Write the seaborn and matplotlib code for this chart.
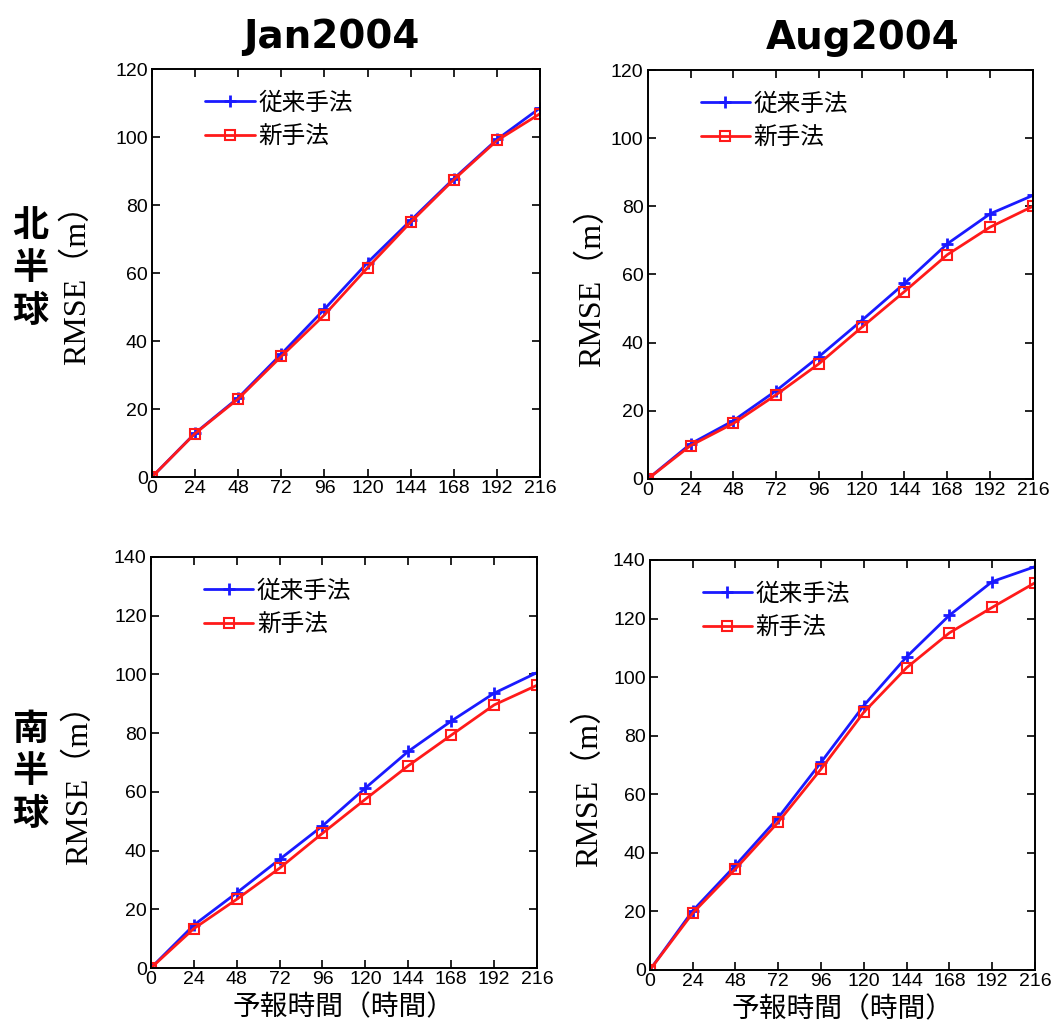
import numpy as np
import pandas as pd
import matplotlib
matplotlib.use("Agg")
import matplotlib.pyplot as plt
import seaborn as sns

# ---- data ----
lead_hours = [0, 24, 48, 72, 96, 120, 144, 168, 192, 216]
series_names = ["従来手法", "新手法"]
col_titles = ["Jan2004", "Aug2004"]
row_labels = ["北\n半\n球", "南\n半\n球"]

nh_jan_old = [0, 12.9, 23.3, 36.2, 49.4, 63.1, 75.5, 87.8, 99.3, 108.6]
nh_jan_new = [0, 12.8, 23.0, 35.5, 47.7, 61.6, 75.0, 87.5, 99.0, 106.9]
nh_aug_old = [0, 10.3, 17.1, 25.9, 35.9, 46.5, 57.4, 69.0, 77.8, 83.2]
nh_aug_new = [0, 9.8, 16.3, 24.7, 33.8, 44.5, 55.0, 65.8, 73.9, 80.0]
sh_jan_old = [0, 14.6, 25.6, 37.0, 48.4, 61.3, 73.8, 84.1, 93.6, 100.6]
sh_jan_new = [0, 13.4, 23.4, 34.0, 45.9, 57.5, 68.9, 79.3, 89.6, 96.3]
sh_aug_old = [0, 20.2, 35.7, 52.0, 70.9, 90.3, 106.9, 121.1, 132.6, 137.7]
sh_aug_new = [0, 19.4, 34.5, 50.5, 68.6, 88.0, 103.2, 115.1, 123.8, 132.2]

ylims = [120, 140]
xticks = lead_hours
ylabel = "RMSE（m）"
xlabel = "予報時間（時間）"

panels = [
    [(nh_jan_old, nh_jan_new), (nh_aug_old, nh_aug_new)],
    [(sh_jan_old, sh_jan_new), (sh_aug_old, sh_aug_new)],
]

sns.set_style("ticks")
plt.rcParams['font.family'] = ['Liberation Sans', 'Noto Sans CJK JP', 'DejaVu Sans']
for key in ["text.color", "axes.labelcolor", "xtick.color", "ytick.color", "axes.edgecolor"]:
    plt.rcParams[key] = "black"

fig = plt.figure(figsize=(10.55, 10.25), dpi=100)
positions = [
    [(0.144, 0.5346, 0.368, 0.398), (0.614, 0.5327, 0.365, 0.399)],
    [(0.143, 0.0556, 0.366, 0.401), (0.616, 0.0537, 0.365, 0.400)],
]
ylabel_coords = [[(-0.154, 0.49), (-0.105, 0.49)],
                 [(-0.147, 0.465), (-0.118, 0.465)]]
title_x = [0.461, 0.558]
colors = {"従来手法": "#1a1aff", "新手法": "#ff1a1a"}

for r in range(2):
    for c in range(2):
        ax = fig.add_axes(positions[r][c])
        old, new = panels[r][c]
        df = pd.DataFrame({
            "hour": lead_hours * 2,
            "rmse": list(old) + list(new),
            "method": [series_names[0]] * len(lead_hours) + [series_names[1]] * len(lead_hours),
        })
        for name, mk in [(series_names[0], "+"), (series_names[1], "s")]:
            sub = df[df.method == name]
            kw = dict(marker=mk, markersize=9 if mk == "+" else 6.5,
                      markeredgewidth=2.0 if mk == "+" else 1.5)
            if mk == "s":
                kw["markerfacecolor"] = "none"
            sns.lineplot(data=sub, x="hour", y="rmse", ax=ax, color=colors[name],
                         linewidth=2.0, label=name, markeredgecolor=colors[name], **kw)
        ax.set_xlim(0, 216)
        ax.set_ylim(0, ylims[r])
        ax.set_xticks(xticks)
        ax.set_yticks(np.arange(0, ylims[r] + 1, 20))
        ax.tick_params(direction="in", top=True, right=True, length=6, width=1.2,
                       labelsize=14)
        ax.tick_params(axis="y", pad=3)
        ax.tick_params(axis="x", pad=2)
        for sp in ax.spines.values():
            sp.set_linewidth(1.4)
            sp.set_color("black")
        ax.set_xlabel("")
        ax.set_ylabel(ylabel, family=['Liberation Serif', 'Noto Sans CJK JP'], fontsize=23)
        ax.yaxis.set_label_coords(*ylabel_coords[r][c])
        if r == 1:
            ax.set_xlabel(xlabel, fontsize=20, labelpad=5)
        if r == 0:
            ax.set_title(col_titles[c], fontsize=28, fontweight="bold", pad=15,
                         family=['DejaVu Sans'], x=title_x[c])
        ax.legend(loc="upper left", bbox_to_anchor=(0.082, 0.995), frameon=False,
                  fontsize=17, handlelength=2.1, handletextpad=0.15, labelspacing=0.5)

for r, y in enumerate([0.738, 0.247]):
    fig.text(0.029, y, row_labels[r], fontsize=26, fontweight="bold", ha="center", va="center",
             linespacing=1.2, family=['Noto Sans CJK JP'])

fig.savefig("out.png", dpi=100)
